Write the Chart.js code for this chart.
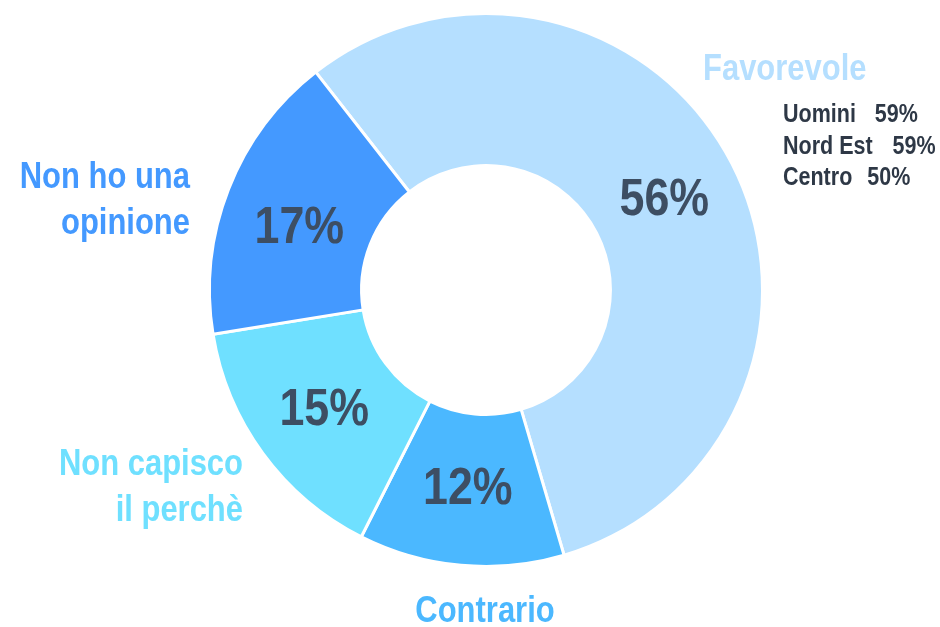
<!DOCTYPE html>
<html>
<head>
<meta charset="utf-8">
<script src="https://cdn.jsdelivr.net/npm/chart.js@4"></script>
<style>
  html, body { margin: 0; padding: 0; background: #fff; }
  #chart { display: block; }
</style>
</head>
<body>
<canvas id="chart" width="940" height="627"></canvas>
<script>
// data
const categories = ['Favorevole', 'Contrario', 'Non capisco il perchè', 'Non ho una opinione'];
const labelLines = [['Favorevole'], ['Contrario'], ['Non capisco', 'il perchè'], ['Non ho una', 'opinione']];
const values = [56, 12, 15, 17];
const colors = ['#b5dfff', '#4bb8ff', '#6fe0ff', '#4499ff'];
const subGroups = ['Uomini', 'Nord Est', 'Centro'];
const subValues = [59, 59, 50];

const FONT = "'Liberation Sans', Arial, sans-serif";
const SQUEEZE = 0.86; // no condensed font installed, so squash horizontally

// where the outside labels sit (x, first baseline, alignment)
const labelPos = [
  { x: 703, y: 80, align: 'left' },
  { x: 485, y: 622, align: 'center' },
  { x: 243, y: 475, align: 'right' },
  { x: 190, y: 188, align: 'right' }
];
const pctNudge = [2, 0, 2, 12];

function narrowText(ctx, text, x, y, align) {
  ctx.save();
  ctx.translate(x, y);
  ctx.scale(SQUEEZE, 1);
  ctx.textAlign = align;
  ctx.fillText(text, 0, 0);
  ctx.restore();
}

const labelsPlugin = {
  id: 'doughnutLabels',
  afterDatasetsDraw(chart) {
    const ctx = chart.ctx;
    const meta = chart.getDatasetMeta(0);
    ctx.save();

    // percentages inside the ring
    ctx.font = 'bold 52px ' + FONT;
    ctx.fillStyle = '#3d4e63';
    ctx.textBaseline = 'middle';
    meta.data.forEach((arc, i) => {
      const p = arc.tooltipPosition();
      narrowText(ctx, values[i] + '%', p.x, p.y + pctNudge[i], 'center');
    });

    // category names outside
    ctx.font = 'bold 36px ' + FONT;
    ctx.textBaseline = 'alphabetic';
    labelLines.forEach((lines, i) => {
      const pos = labelPos[i];
      ctx.fillStyle = colors[i];
      lines.forEach((line, j) => {
        narrowText(ctx, line, pos.x, pos.y + j * 46, pos.align);
      });
    });

    // breakdown under Favorevole
    ctx.font = 'bold 25px ' + FONT;
    ctx.fillStyle = '#2e3846';
    const gaps = [19, 20, 15];
    subGroups.forEach((g, i) => {
      const y = 122 + i * 31.5;
      narrowText(ctx, g, 783, y, 'left');
      const w = ctx.measureText(g).width * SQUEEZE;
      narrowText(ctx, subValues[i] + '%', 783 + w + gaps[i], y, 'left');
    });

    ctx.restore();
  }
};

new Chart(document.getElementById('chart'), {
  type: 'doughnut',
  data: {
    labels: categories,
    datasets: [{
      data: values,
      backgroundColor: colors,
      borderColor: '#ffffff',
      borderWidth: 3,
      hoverOffset: 0
    }]
  },
  options: {
    responsive: false,
    animation: false,
    rotation: -38,
    cutout: '45%',
    layout: {
      padding: { left: 208, right: 176, top: 12, bottom: 59 }
    },
    plugins: {
      legend: { display: false },
      tooltip: { enabled: false }
    }
  },
  plugins: [labelsPlugin]
});
</script>
</body>
</html>
